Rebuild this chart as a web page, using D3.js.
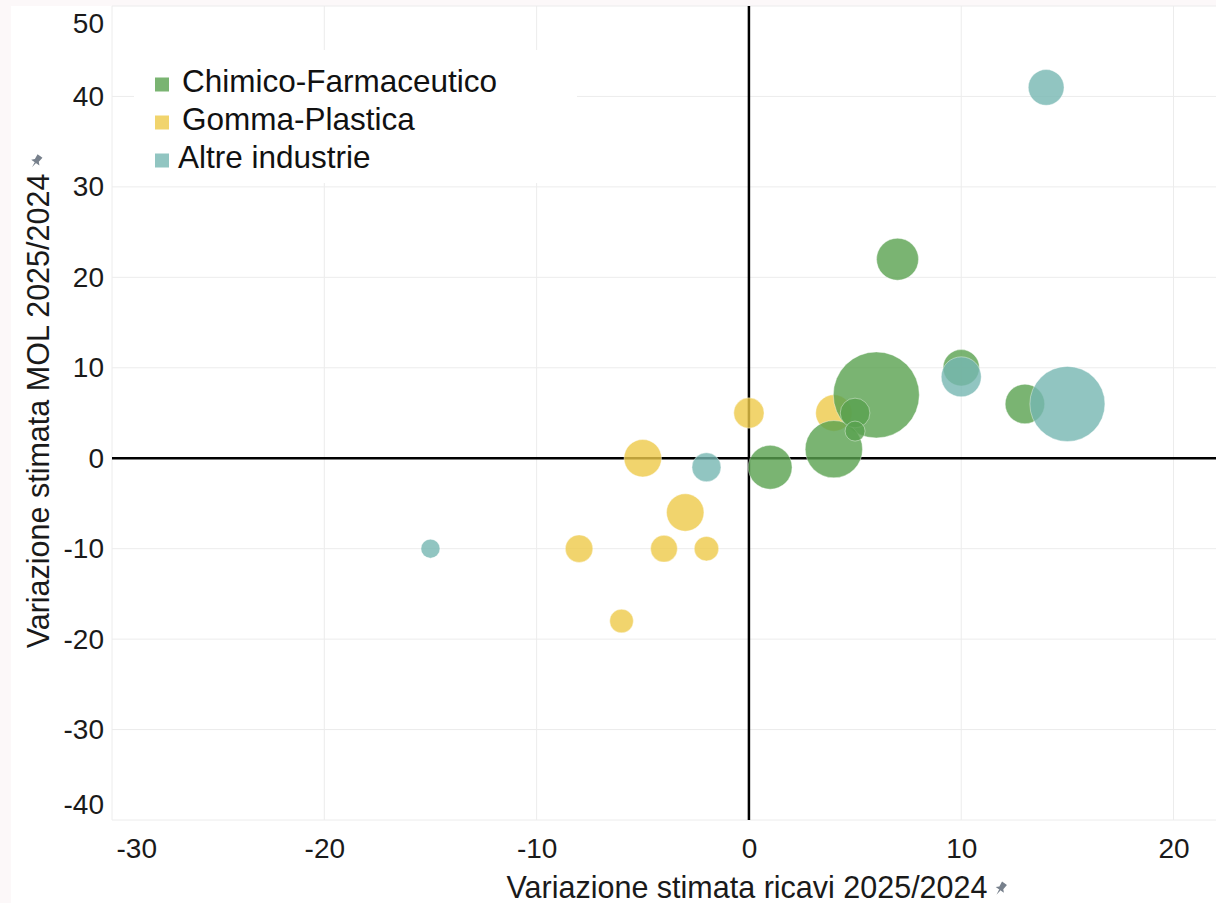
<!DOCTYPE html>
<html>
<head>
<meta charset="utf-8">
<script src="https://cdn.jsdelivr.net/npm/d3@7"></script>
<style>
  html, body { margin: 0; padding: 0; background: #fcf8f9; }
  svg { display: block; font-family: "Liberation Sans", Arial, sans-serif; }
</style>
</head>
<body>
<svg id="chart" width="1216" height="903"></svg>
<script>
// ---- Data ----
const categories = ["Chimico-Farmaceutico", "Gomma-Plastica", "Altre industrie"];
const categoryColors = ["#59a14f", "#edc948", "#76b7b2"];

// Chimico-Farmaceutico
const chimicoX    = [7, 6, 10, 13, 4, 1, 5, 5];
const chimicoY    = [22, 7, 10, 6, 1, -1, 5, 3];
const chimicoSize = [44, 185, 33, 39, 82, 48, 22, 10];

// Gomma-Plastica
const gommaX    = [0, 4, -5, -3, -8, -4, -2, -6];
const gommaY    = [5, 5, 0, -6, -10, -10, -10, -18];
const gommaSize = [23, 33, 35, 35, 19, 18, 15, 14];

// Altre industrie
const altreX    = [14, 10, 15, -2, -15];
const altreY    = [41, 9, 6, -1, -10];
const altreSize = [32, 40, 141, 21, 9];

const xTicks = [-30, -20, -10, 0, 10, 20];
const yTicks = [-40, -30, -20, -10, 0, 10, 20, 30, 40, 50];
const xTitle = "Variazione stimata ricavi 2025/2024";
const yTitle = "Variazione stimata MOL 2025/2024";

// ---- Build points ----
function build(cat, xs, ys, ss) {
  return xs.map((x, i) => ({ cat, x, y: ys[i], s: ss[i] }));
}
const seriesData = [
  build(categories[0], chimicoX, chimicoY, chimicoSize),
  build(categories[1], gommaX, gommaY, gommaSize),
  build(categories[2], altreX, altreY, altreSize)
];
// drawing order: Gomma, Chimico, Altre
const drawOrder = [1, 0, 2];

const W = 1216, H = 903;
const plot = { left: 112, right: 1216, top: 6, bottom: 820 };
const FONT = "\"Liberation Sans\", Arial, sans-serif";

const svg = d3.select("#chart");
svg.append("rect").attr("x", 11).attr("y", 6).attr("width", W - 11).attr("height", H - 6).attr("fill", "#ffffff");

const x = d3.scaleLinear().domain([-30, 22]).range([plot.left, plot.right]);
const y = d3.scaleLinear().domain([-40, 50]).range([plot.bottom, plot.top]);
const allSizes = chimicoSize.concat(gommaSize, altreSize);
const r = d3.scaleSqrt().domain([0, d3.max(allSizes)]).range([0, 43]);
const color = d3.scaleOrdinal().domain(categories).range(categoryColors);

// Gridlines
const grid = svg.append("g");
grid.selectAll("line.v").data(xTicks).join("line")
  .attr("x1", d => x(d)).attr("x2", d => x(d))
  .attr("y1", plot.top).attr("y2", plot.bottom)
  .attr("stroke", "#ececec").attr("stroke-width", 1);
grid.selectAll("line.h").data(yTicks).join("line")
  .attr("x1", plot.left).attr("x2", plot.right)
  .attr("y1", d => y(d)).attr("y2", d => y(d))
  .attr("stroke", "#ececec").attr("stroke-width", 1);

// Legend background (covers gridlines)
const legend = svg.append("g");
legend.append("rect").attr("x", 134).attr("y", 50).attr("width", 443).attr("height", 133).attr("fill", "#ffffff");

// Zero lines
svg.append("line").attr("x1", x(0)).attr("x2", x(0)).attr("y1", plot.top).attr("y2", plot.bottom)
  .attr("stroke", "#000").attr("stroke-width", 2.5);
svg.append("line").attr("x1", plot.left).attr("x2", plot.right).attr("y1", y(0)).attr("y2", y(0))
  .attr("stroke", "#000").attr("stroke-width", 2.5);

// Axes
const xAxis = svg.append("g").attr("transform", `translate(0,${plot.bottom})`)
  .call(d3.axisBottom(x).tickValues(xTicks).tickFormat(d => String(d)).tickSize(0).tickPadding(18.5));
const yAxis = svg.append("g").attr("transform", `translate(${plot.left},0)`)
  .call(d3.axisLeft(y).tickValues(yTicks).tickFormat(d => String(d)).tickSize(0).tickPadding(8));
[xAxis, yAxis].forEach(a => {
  a.select(".domain").remove();
  a.selectAll("text").attr("font-size", 28).attr("fill", "#1a1a1a").attr("font-family", FONT);
});
// clamp edge labels inside the plot area
xAxis.selectAll(".tick").filter(d => d === -30).select("text").attr("text-anchor", "start").attr("dx", 4);
yAxis.selectAll(".tick").filter(d => d === 50).select("text").attr("dy", "0.94em");
yAxis.selectAll(".tick").filter(d => d === -40).select("text").attr("dy", "-0.22em");

// Bubbles
const bubbles = svg.append("g");
drawOrder.forEach(i => {
  bubbles.append("g").selectAll("circle").data(seriesData[i]).join("circle")
    .attr("cx", d => x(d.x)).attr("cy", d => y(d.y)).attr("r", d => r(d.s))
    .attr("fill", d => color(d.cat)).attr("fill-opacity", 0.8)
    .attr("stroke", "#ffffff").attr("stroke-opacity", 0.4).attr("stroke-width", 1);
});

// Legend items (baselines)
const rows = legend.selectAll("g.item").data(categories).join("g")
  .attr("transform", (d, i) => `translate(155,${91.5 + i * 38})`);
rows.append("rect").attr("x", 0).attr("y", -14).attr("width", 14).attr("height", 14)
  .attr("fill", d => color(d)).attr("fill-opacity", 0.8);
rows.append("text").attr("x", (d, i) => i === 2 ? 23 : 27).attr("y", 0)
  .attr("font-size", 31.5).attr("fill", "#111").text(d => d);

// Pin icon
function pin(g) {
  g.append("path")
    .attr("d", "M-3,-7 L3,-7 L2.4,-1.5 L5,1.2 L-5,1.2 L-2.4,-1.5 Z M-0.8,1.2 L0,7 L0.8,1.2 Z")
    .attr("fill", "#77808c");
}

// Axis titles
const xt = svg.append("text").attr("x", 747).attr("y", 898)
  .attr("text-anchor", "middle").attr("font-size", 30.5).attr("fill", "#1a1a1a").text(xTitle);
const xtW = xt.node().getComputedTextLength();
pin(svg.append("g").attr("transform", `translate(${747 + xtW / 2 + 13},889) rotate(35)`));

const yt = svg.append("text").attr("transform", `translate(49,411) rotate(-90)`)
  .attr("text-anchor", "middle").attr("font-size", 30.5).attr("fill", "#1a1a1a").text(yTitle);
const ytW = yt.node().getComputedTextLength();
pin(svg.append("g").attr("transform", `translate(36,${411 - ytW / 2 - 12}) rotate(35)`));
</script>
</body>
</html>
